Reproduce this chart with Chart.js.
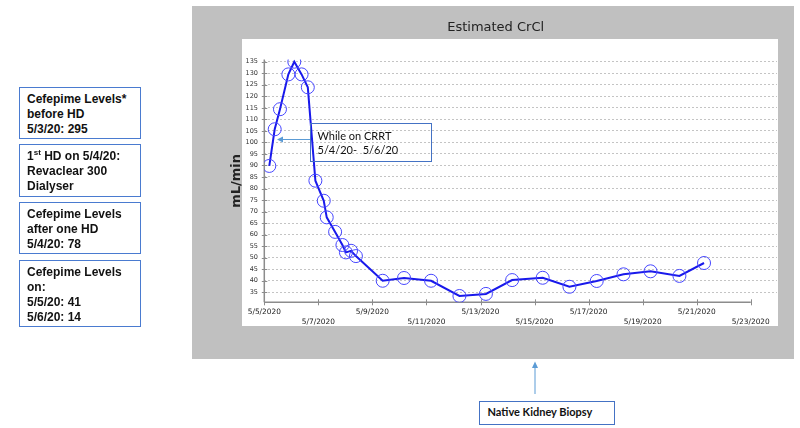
<!DOCTYPE html>
<html><head><meta charset="utf-8">
<script src="https://cdn.jsdelivr.net/npm/chart.js@4/dist/chart.umd.min.js"></script>
<style>
html,body{margin:0;padding:0;width:800px;height:428px;background:#fff;overflow:hidden;}
body{position:relative;font-family:"Liberation Sans",Arial,sans-serif;}
#grayPanel{position:absolute;left:192px;top:6px;width:602px;height:353px;background:#c0c0c0;}
#whitePanel{position:absolute;left:242px;top:39px;width:536px;height:287px;background:#fff;}
#chart{position:absolute;left:0;top:0;}
.note{position:absolute;left:19px;width:122px;box-sizing:border-box;border:1.5px solid #4a7bd0;background:#fff;
  font:bold 12px "Liberation Sans",Arial,sans-serif;line-height:15px;color:#111;padding:3.5px 0 0 7px;white-space:nowrap;}
.note sup{font-size:8px;line-height:0;vertical-align:5px;}
#crrt{position:absolute;left:310px;top:123px;width:122px;height:39px;box-sizing:border-box;border:1.5px solid #4472c4;
  font:11px Lato,"Liberation Sans",sans-serif;line-height:14.3px;color:#111;padding:5px 0 0 6.5px;white-space:pre;}
#biopsy{position:absolute;left:479px;top:401px;width:136px;height:24px;box-sizing:border-box;border:1.5px solid #4472c4;background:#fff;
  font:bold 11px Lato,"Liberation Sans",sans-serif;line-height:20px;color:#111;padding:0 0 0 7.5px;white-space:nowrap;}
#arrows{position:absolute;left:0;top:0;}
</style></head>
<body>
<div id="grayPanel"></div>
<div id="whitePanel"></div>
<canvas id="chart" width="800" height="428"></canvas>
<div class="note" style="top:87px;height:52px;">Cefepime Levels*<br>before HD<br>5/3/20: 295</div>
<div class="note" style="top:144px;height:53px;">1<sup>st</sup> HD on 5/4/20:<br>Revaclear 300<br>Dialyser</div>
<div class="note" style="top:202px;height:52px;">Cefepime Levels<br>after one HD<br>5/4/20: 78</div>
<div class="note" style="top:260px;height:67px;">Cefepime Levels<br>on:<br>5/5/20: 41<br>5/6/20: 14</div>
<div id="crrt">While on CRRT
5/4/20-  5/6/20</div>
<div id="biopsy">Native Kidney Biopsy</div>
<svg id="arrows" width="800" height="428">
  <line x1="310" y1="139.5" x2="281" y2="139.5" stroke="#5b9bd5" stroke-width="1"/>
  <polygon points="277,139.5 283,136.5 283,142.5" fill="#5b9bd5"/>
  <line x1="535" y1="394" x2="535" y2="366" stroke="#5b9bd5" stroke-width="1"/>
  <polygon points="535,361.5 532,368 538,368" fill="#5b9bd5"/>
</svg>
<script>
// ---- data ----
const tickDays = [0, 2, 4, 6, 8, 10, 12, 14, 16, 18];
const tickLabels = ['5/5/2020','5/7/2020','5/9/2020','5/11/2020','5/13/2020','5/15/2020','5/17/2020','5/19/2020','5/21/2020','5/23/2020'];
const yTicks = [35,40,45,50,55,60,65,70,75,80,85,90,95,100,105,110,115,120,125,130,135];
// days since 5/5/2020 00:00
const sampleDays = [0.185,0.385,0.58,0.89,1.11,1.38,1.61,1.89,2.20,2.31,2.62,2.89,3.02,3.21,3.39,4.38,5.17,6.17,7.22,8.20,9.17,10.30,11.29,12.30,13.29,14.29,15.36,16.27];
const crclValues = [89.8,105.7,114.4,129.5,135,129.5,123.9,83.4,74.7,67.5,61.2,55.5,52.3,53.0,50.7,40.0,41.2,40.0,33.4,34.3,40.3,41.3,37.4,39.9,42.8,44.1,42.1,47.7];

const axisPlugin = {
  id: 'axisLines',
  beforeDatasetsDraw(chart) {
    const {ctx, chartArea} = chart;
    const xs = chart.scales.x, ys = chart.scales.y;
    ctx.save();
    ctx.strokeStyle = '#8c8c8c';
    ctx.lineWidth = 1.5;
    const b = chartArea.bottom, l = chartArea.left;
    ctx.beginPath();
    ctx.moveTo(l, chartArea.top); ctx.lineTo(l, b);
    ctx.moveTo(xs.getPixelForValue(tickDays[0]), b);
    ctx.lineTo(xs.getPixelForValue(tickDays[tickDays.length-1]), b);
    ctx.stroke();
    ctx.lineWidth = 1;
    ctx.beginPath();
    tickDays.forEach(d => { const px = Math.round(xs.getPixelForValue(d)) + 0.5; ctx.moveTo(px, b - 3); ctx.lineTo(px, b + 3); });
    yTicks.forEach(v => { const py = Math.round(ys.getPixelForValue(v)) + 0.5; ctx.moveTo(l - 2.5, py); ctx.lineTo(l + 3, py); });
    ctx.stroke();
    ctx.restore();
  }
};

new Chart(document.getElementById('chart'), {
  type: 'line',
  data: {
    datasets: [{
      data: sampleDays.map((d, i) => ({x: d, y: crclValues[i]})),
      borderColor: 'rgb(25,25,235)',
      borderWidth: 2,
      tension: 0,
      pointRadius: 6.5,
      pointBorderColor: 'rgb(70,70,255)',
      pointBorderWidth: 1,
      pointBackgroundColor: 'rgba(0,0,0,0)'
    }]
  },
  options: {
    responsive: false,
    animation: false,
    devicePixelRatio: 1,
    layout: {padding: {left: 214.3, right: 23, top: 0, bottom: 95.7}},
    plugins: {
      legend: {display: false},
      tooltip: {enabled: false},
      title: {
        display: true, text: 'Estimated CrCl', color: '#222',
        font: {family: 'DejaVu Sans', size: 13, weight: 'normal', lineHeight: 1.2},
        padding: {top: 20.2, bottom: 23.6}
      }
    },
    scales: {
      x: {
        type: 'linear', min: 0, max: 18.97,
        afterBuildTicks(scale) { scale.ticks = tickDays.map(v => ({value: v})); },
        afterFit(scale) { scale.height = 30; },
        grid: {display: false, drawTicks: false},
        border: {display: false},
        ticks: {
          autoSkip: false, maxRotation: 0, minRotation: 0, padding: 5.3,
          color: '#222', font: {family: 'DejaVu Sans', size: 7.4, lineHeight: '9.4px'},
          callback(value, index) { return index % 2 === 0 ? tickLabels[index] : ['', tickLabels[index]]; }
        }
      },
      y: {
        min: 30.66, max: 136,
        afterBuildTicks(scale) { scale.ticks = yTicks.map(v => ({value: v})); },
        afterFit(scale) { scale.width = 50; },
        grid: {color: '#c4c4c4', lineWidth: 1, drawTicks: false},
        border: {display: false, dash: [2, 2]},
        ticks: {padding: 6.3, color: '#333', font: {family: 'DejaVu Sans', size: 6.5}},
        title: {
          display: true, text: 'mL/min', color: '#222',
          font: {family: 'DejaVu Sans', size: 13, weight: 'bold', lineHeight: 1.2},
          padding: {top: 14.9, bottom: 0}
        }
      }
    }
  },
  plugins: [axisPlugin]
});
</script>
</body></html>
